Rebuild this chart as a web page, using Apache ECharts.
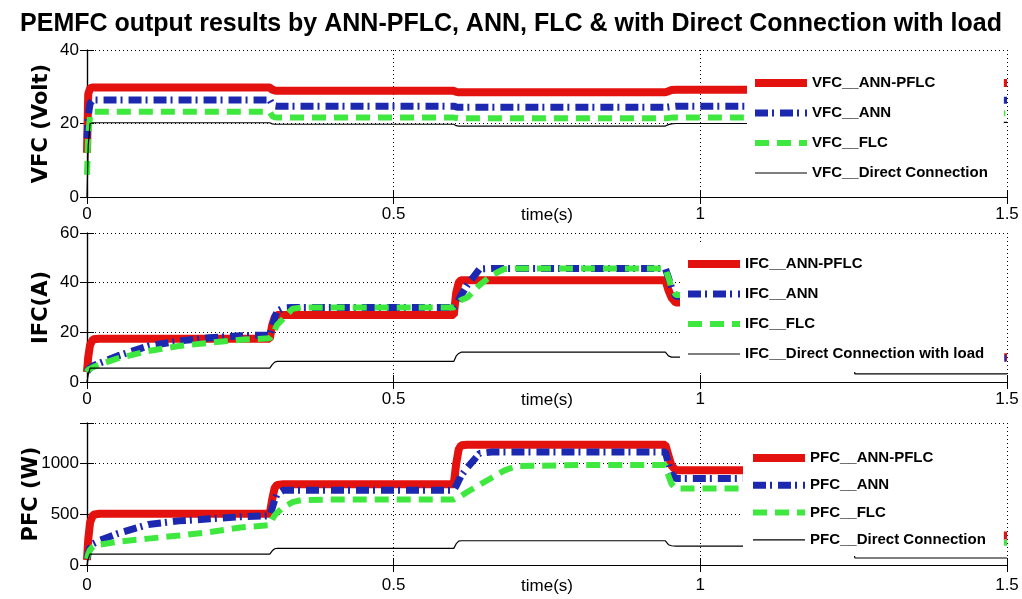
<!DOCTYPE html>
<html>
<head>
<meta charset="utf-8">
<script src="https://cdn.jsdelivr.net/npm/echarts@6/dist/echarts.min.js"></script>
<style>
html,body{margin:0;padding:0;background:#fff;}
#chart{width:1022px;height:599px;}
</style>
</head>
<body>
<div id="chart"></div>
<script>
// ---------- DATA ----------
const timeS = [0, 0.002, 0.005, 0.01, 0.02, 0.05, 0.1, 0.15, 0.2, 0.25, 0.298, 0.302, 0.306, 0.31, 0.32, 0.335, 0.35, 0.4, 0.598, 0.602, 0.606, 0.61, 0.62, 0.64, 0.66, 0.68, 0.7, 0.8, 0.943, 0.948, 0.953, 0.96, 1.0, 1.248, 1.252, 1.5];

const vfcAnnPflc = [12, 28, 29.6, 29.8, 29.8, 29.8, 29.8, 29.8, 29.8, 29.8, 29.8, 29.2, 29.0, 28.9, 28.9, 28.9, 28.9, 28.9, 28.9, 28.6, 28.5, 28.5, 28.5, 28.5, 28.5, 28.5, 28.5, 28.5, 28.5, 28.8, 29.1, 29.2, 29.2, 29.2, 31, 31];
const vfcAnn     = [16, 22, 25.5, 26.4, 26.4, 26.4, 26.4, 26.4, 26.4, 26.4, 26.4, 25.2, 24.8, 24.7, 24.7, 24.7, 24.7, 24.7, 24.7, 24.5, 24.4, 24.4, 24.4, 24.4, 24.4, 24.4, 24.4, 24.4, 24.4, 24.5, 24.6, 24.7, 24.7, 24.7, 26.3, 26.3];
const vfcFlc     = [6, 17, 22, 23.2, 23.2, 23.2, 23.2, 23.2, 23.2, 23.2, 23.2, 22.0, 21.7, 21.6, 21.6, 21.6, 21.6, 21.6, 21.6, 21.5, 21.4, 21.4, 21.4, 21.4, 21.4, 21.4, 21.4, 21.4, 21.4, 21.5, 21.6, 21.6, 21.6, 21.6, 22.8, 22.8];
const vfcDirect  = [0, 14, 20, 20.2, 20.2, 20.2, 20.2, 20.2, 20.2, 20.2, 20.2, 19.9, 19.8, 19.8, 19.8, 19.8, 19.8, 19.8, 19.8, 19.4, 19.3, 19.3, 19.3, 19.3, 19.3, 19.3, 19.3, 19.3, 19.3, 19.7, 19.9, 20.0, 20.0, 20.0, 20.3, 20.3];

const ifcAnnPflc = [4, 10, 15, 17.2, 17.4, 17.4, 17.4, 17.4, 17.4, 17.4, 17.4, 23, 26, 27, 27, 27, 27, 27, 27, 36, 40, 41, 41, 41, 41, 41, 41, 41, 41, 37, 34, 32, 32, 32, 10, 10];
const ifcAnn     = [4, 5, 5.5, 6.5, 7.5, 10.5, 14.5, 16.5, 17.8, 18.6, 19, 22, 26, 28.5, 29.8, 30, 30, 30, 30, 31, 33, 35, 39, 45.5, 45.7, 45.7, 45.7, 45.7, 45.7, 42, 38, 34.5, 34.5, 34.5, 9.6, 9.6];
const ifcFlc     = [4, 5, 5.5, 6, 7, 9.5, 12.5, 14.5, 15.8, 17, 17.6, 19, 21, 23, 25.5, 29.5, 30, 30, 30, 31, 32, 33, 34, 39, 43, 45.5, 45.7, 45.7, 45.7, 42, 38, 35, 35, 35, 9.8, 9.8];
const ifcDirect  = [0, 3, 5.6, 5.6, 5.6, 5.6, 5.6, 5.6, 5.6, 5.6, 5.6, 7, 8, 8.3, 8.3, 8.3, 8.3, 8.3, 8.3, 10.5, 11.5, 12, 12, 12, 12, 12, 12, 12, 12, 10.5, 10, 10, 10, 10, 3.3, 3.3];

const pfcAnnPflc = [50, 250, 420, 495, 505, 505, 505, 505, 505, 505, 505, 650, 760, 790, 797, 797, 797, 797, 797, 1000, 1140, 1180, 1185, 1185, 1185, 1185, 1185, 1185, 1185, 1080, 980, 935, 935, 935, 290, 290];
const pfcAnn     = [60, 120, 170, 210, 240, 310, 400, 435, 455, 475, 485, 560, 640, 700, 737, 737, 737, 737, 737, 780, 830, 880, 960, 1100, 1114, 1114, 1114, 1114, 1114, 1000, 900, 852, 852, 852, 260, 260];
const pfcFlc     = [60, 110, 150, 180, 200, 230, 260, 290, 325, 370, 393, 450, 490, 515, 570, 620, 640, 646, 646, 660, 670, 680, 720, 790, 860, 930, 975, 985, 985, 880, 800, 754, 754, 754, 220, 220];
const pfcDirect  = [0, 60, 108, 108, 108, 108, 108, 108, 108, 108, 108, 140, 160, 164, 164, 164, 164, 164, 164, 210, 235, 239, 239, 239, 239, 239, 239, 239, 239, 200, 190, 187, 187, 187, 69, 69];

const methodNames = ['ANN-PFLC', 'ANN', 'FLC', 'Direct Connection'];
const panelPrefixes = ['VFC', 'IFC', 'PFC'];
const directSuffix = ['', ' with load', ''];
const yAxisTitles = ['VFC (Volt)', 'IFC(A)', 'PFC (W)'];
const xAxisTitle = 'time(s)';
const xTickValues = [0, 0.5, 1, 1.5];
const yTickValues = [[0, 20, 40], [0, 20, 40, 60], [0, 500, 1000]];
const yMax = [40, 60, 1400];
const yInterval = [20, 20, 500];
const chartTitle = 'PEMFC output results by ANN-PFLC, ANN, FLC & with Direct Connection with load';

const panelValues = [
  [vfcAnnPflc, vfcAnn, vfcFlc, vfcDirect],
  [ifcAnnPflc, ifcAnn, ifcFlc, ifcDirect],
  [pfcAnnPflc, pfcAnn, pfcFlc, pfcDirect]
];

// ---------- STYLE ----------
const colors = ['#e3120f', '#1c28b0', '#3fe83f', '#000000'];
const widths = [8, 7, 6, 1.2];
const dashes = ['solid', [13, 4, 2, 6], [14, 8], 'solid'];
const grids = [
  {left: 87, right: 15, top: 50, height: 147},
  {left: 87, right: 15, top: 233, height: 149},
  {left: 87, right: 15, top: 423, height: 142}
];
const xLabelMargin = [9, 9, 12];
const xNameGap = [10, 10, 13];
const yNameGap = [35, 35, 45];
const legendCfg = [
  {left: 747, top: 54, padding: [19, 16, 9, 4], itemGap: 10},
  {left: 680, top: 245, padding: [9, 20, 8, 4], itemGap: 10},
  {left: 743, top: 436, padding: [12, 18, 6, 6], itemGap: 7.3}
];

const sans = "'Liberation Sans', Arial, sans-serif";
const black = '#000';

const xAxes = [], yAxes = [], series = [], legends = [];
for (let p = 0; p < 3; p++) {
  xAxes.push({
    type: 'value', gridIndex: p, min: 0, max: 1.5, interval: 0.5,
    axisLine: {show: true, lineStyle: {color: black, width: 1.2}},
    axisTick: {show: true, inside: true, length: 7, lineStyle: {color: black}},
    axisLabel: {color: black, fontFamily: sans, fontSize: 17, margin: xLabelMargin[p],
      formatter: v => xTickValues.indexOf(v) >= 0 ? String(v) : ''},
    splitLine: {show: true, lineStyle: {color: black, width: 1, type: [1, 3]}},
    name: xAxisTitle, nameLocation: 'middle', nameGap: xNameGap[p], nameMoveOverlap: false,
    nameTextStyle: {color: black, fontFamily: sans, fontSize: 17, verticalAlign: 'top'}
  });
  xAxes.push({
    type: 'value', gridIndex: p, min: 0, max: 1.5, interval: 0.5, position: 'top',
    axisLine: {show: true, lineStyle: {color: black, width: 1.2}},
    axisTick: {show: true, inside: true, length: 7, lineStyle: {color: black}},
    axisLabel: {show: false}, splitLine: {show: false}
  });
  yAxes.push({
    type: 'value', gridIndex: p, min: 0, max: yMax[p], interval: yInterval[p],
    axisLine: {show: true, lineStyle: {color: black, width: 1.2}},
    axisTick: {show: true, inside: true, length: 7, lineStyle: {color: black}},
    axisLabel: {color: black, fontFamily: sans, fontSize: 17, margin: 8,
      formatter: v => yTickValues[p].indexOf(v) >= 0 ? String(v) : ''},
    splitLine: {show: true, lineStyle: {color: black, width: 1, type: [1, 3]}},
    name: yAxisTitles[p], nameLocation: 'middle', nameGap: yNameGap[p], nameMoveOverlap: false,
    nameTextStyle: {color: black, fontFamily: "'DejaVu Sans', sans-serif", fontWeight: 'bold', fontSize: 21}
  });
  yAxes.push({
    type: 'value', gridIndex: p, min: 0, max: yMax[p], interval: yInterval[p], position: 'right',
    axisLine: {show: true, lineStyle: {color: black, width: 1.2}},
    axisTick: {show: true, inside: true, length: 7, lineStyle: {color: black}},
    axisLabel: {show: false}, splitLine: {show: false}
  });
  const names = [];
  for (let s = 0; s < 4; s++) {
    const name = panelPrefixes[p] + '__' + methodNames[s] + (s === 3 ? directSuffix[p] : '');
    names.push(name);
    const vals = panelValues[p][s];
    series.push({
      name: name, type: 'line', xAxisIndex: 2 * p, yAxisIndex: 2 * p,
      symbol: 'none', showSymbol: false, animation: false,
      lineStyle: {color: colors[s], width: widths[s], type: dashes[s]},
      itemStyle: {color: colors[s]},
      data: timeS.map((t, i) => [t, vals[i]])
    });
  }
  const lc = legendCfg[p];
  legends.push({
    orient: 'vertical', left: lc.left, top: lc.top, padding: lc.padding,
    itemGap: lc.itemGap, itemWidth: 52, itemHeight: 12,
    backgroundColor: '#fff', selectedMode: false,
    data: names,
    lineStyle: {width: 'inherit'},
    itemStyle: {color: 'rgba(0,0,0,0)', borderColor: 'rgba(0,0,0,0)', borderWidth: 0, opacity: 0},
    textStyle: {color: black, fontFamily: sans, fontWeight: 'bold', fontSize: 15, lineHeight: 20}
  });
}

const chart = echarts.init(document.getElementById('chart'), null, {renderer: 'canvas'});
chart.setOption({
  backgroundColor: '#fff',
  animation: false,
  title: {text: chartTitle, left: 'center', top: 7,
    textStyle: {color: black, fontFamily: sans, fontWeight: 'bold', fontSize: 25}},
  grid: grids,
  xAxis: xAxes,
  yAxis: yAxes,
  legend: legends,
  series: series
});
</script>
</body>
</html>
